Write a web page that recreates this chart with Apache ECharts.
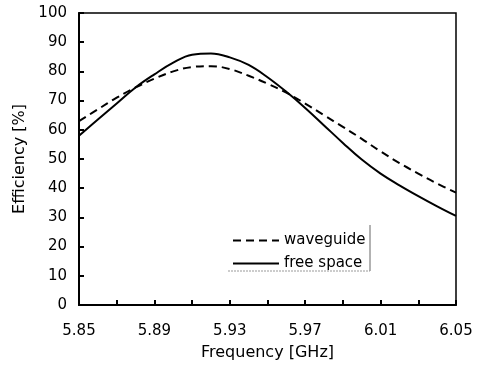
<!DOCTYPE html>
<html><head><meta charset="utf-8">
<script src="https://cdn.jsdelivr.net/npm/echarts@6/dist/echarts.min.js"></script>
<style>html,body{margin:0;padding:0;background:#fff}#c{width:479px;height:366px}</style>
</head><body><div id="c"></div>
<script>
var freqs = ['5.85','5.86','5.87','5.88','5.89','5.90','5.91','5.92','5.93','5.94','5.95','5.96','5.97','5.98','5.99','6.00','6.01','6.02','6.03','6.04','6.05'];
var waveguide = [63,67,71,74.5,77.5,80,81.5,81.8,80.8,78.5,75.8,72.7,69,65,61,56.9,52.6,48.6,45,41.6,38.5];
var freeSpace = [58,63.5,69,74.5,79,83,85.7,86.1,84.8,82.2,78,73,67.5,61.5,55.5,49.8,45,41,37.3,33.8,30.5];
var yTicks = [0,10,20,30,40,50,60,70,80,90,100];

var chart = echarts.init(document.getElementById('c'));
var font = '"DejaVu Sans", Arial, sans-serif';
chart.setOption({
  animation: false,
  grid: {left: 79, right: 23, top: 13, bottom: 60, show: true, borderColor: '#000', borderWidth: 1.5, backgroundColor: 'transparent'},
  xAxis: {
    type: 'category', data: freqs, boundaryGap: false,
    name: 'Frequency [GHz]', nameLocation: 'middle', nameGap: 40,
    nameTextStyle: {fontFamily: font, fontSize: 16, color: '#000'},
    axisLine: {lineStyle: {color: '#000', width: 2}},
    axisTick: {inside: true, length: 5, interval: 1, lineStyle: {color: '#000', width: 2}},
    axisLabel: {interval: 3, margin: 19, fontFamily: font, fontSize: 15, color: '#000'},
    splitLine: {show: false}
  },
  yAxis: {
    type: 'value', min: yTicks[0], max: yTicks[yTicks.length-1], interval: 10,
    name: 'Efficiency [%]', nameLocation: 'middle', nameGap: 50,
    nameTextStyle: {fontFamily: font, fontSize: 16, color: '#000'},
    axisLine: {show: true, lineStyle: {color: '#000', width: 2}},
    axisTick: {show: true, inside: true, length: 5, lineStyle: {color: '#000', width: 2}},
    axisLabel: {margin: 12, fontFamily: font, fontSize: 15, color: '#000'},
    splitLine: {show: false}
  },
  legend: {
    orient: 'vertical', left: 227, top: 228, itemWidth: 46, itemHeight: 14, itemGap: 8,
    itemStyle: {opacity: 0},
    textStyle: {fontFamily: font, fontSize: 15, color: '#000'},
    data: ['waveguide', 'free space']
  },
  graphic: [
    {type: 'line', shape: {x1: 370, y1: 225, x2: 370, y2: 271}, style: {stroke: '#666', lineWidth: 1}},
    {type: 'line', shape: {x1: 228, y1: 271, x2: 370, y2: 271}, style: {stroke: '#999', lineWidth: 1, lineDash: [2, 1]}}
  ],
  series: [
    {name: 'waveguide', type: 'line', data: waveguide, smooth: 0.4, symbol: 'none',
     lineStyle: {color: '#000', width: 2, type: [8, 5]}, itemStyle: {color: '#000'}},
    {name: 'free space', type: 'line', data: freeSpace, smooth: 0.4, symbol: 'none',
     lineStyle: {color: '#000', width: 2}, itemStyle: {color: '#000'}}
  ]
});
</script></body></html>
